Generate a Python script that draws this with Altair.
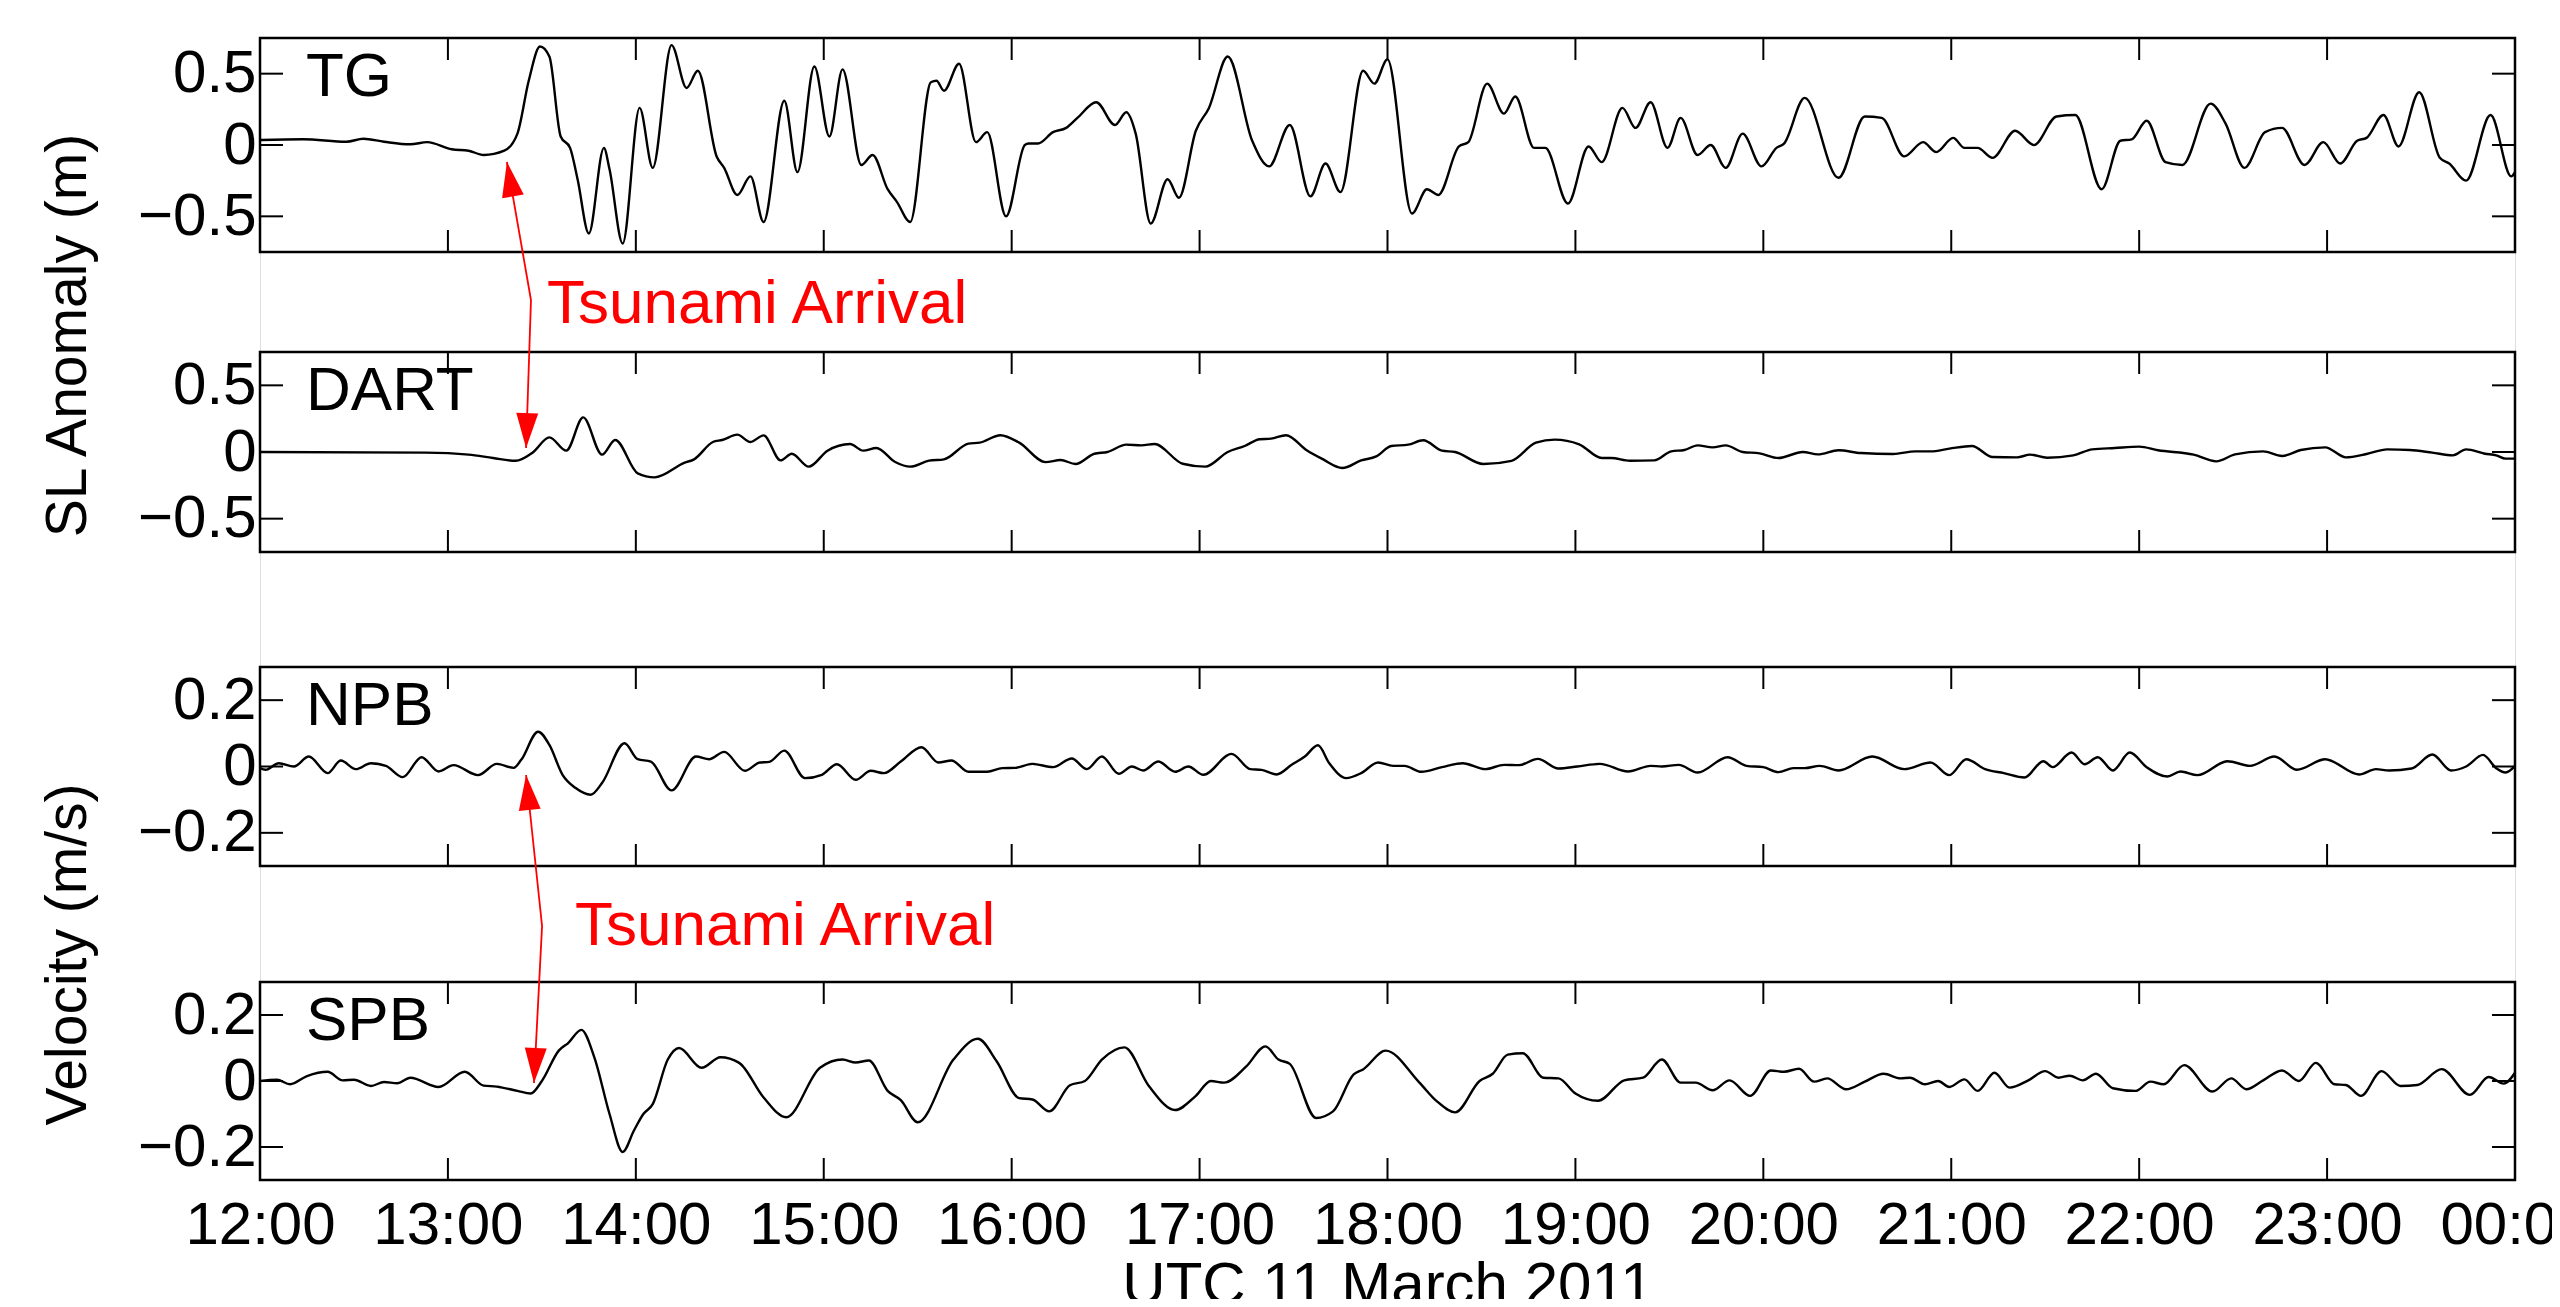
import math
import altair as alt
import pandas as pd

# ---------------- data: hours (UTC, 11 March 2011) and values ----------------
TG_T = [12.00, 12.23, 12.46, 12.55, 12.66, 12.80, 12.89, 13.02, 13.11, 13.19, 13.30, 13.37, 13.43, 13.49,
        13.54, 13.60, 13.65, 13.69, 13.75, 13.83, 13.86, 13.93, 14.02, 14.09, 14.19, 14.27, 14.33, 14.43,
        14.47, 14.54, 14.61, 14.68, 14.79, 14.86, 14.95, 15.03, 15.10, 15.20, 15.26, 15.34, 15.39, 15.46,
        15.57, 15.60, 15.64, 15.72, 15.81, 15.87, 15.97, 16.07, 16.09, 16.14, 16.22, 16.29, 16.35, 16.45,
        16.55, 16.61, 16.66, 16.74, 16.83, 16.89, 16.98, 17.05, 17.15, 17.28, 17.37, 17.48, 17.59, 17.67,
        17.75, 17.87, 17.93, 18.00, 18.13, 18.21, 18.27, 18.38, 18.43, 18.53, 18.62, 18.68, 18.78, 18.84,
        18.96, 19.07, 19.14, 19.25, 19.32, 19.40, 19.49, 19.56, 19.65, 19.72, 19.80, 19.89, 19.99, 20.07,
        20.11, 20.22, 20.40, 20.54, 20.63, 20.75, 20.85, 20.92, 21.01, 21.07, 21.14, 21.22, 21.34, 21.44,
        21.56, 21.66, 21.80, 21.90, 21.96, 22.04, 22.14, 22.23, 22.38, 22.46, 22.56, 22.67, 22.76, 22.88,
        22.98, 23.07, 23.16, 23.21, 23.30, 23.38, 23.49, 23.60, 23.65, 23.74, 23.87, 23.98, 24.00]
TG_V = [0.035, 0.04, 0.023, 0.044, 0.023, 0.005, 0.02, -0.03, -0.04, -0.07, -0.04, 0.08, 0.45, 0.69,
        0.62, 0.06, -0.02, -0.24, -0.62, -0.02, -0.17, -0.69, 0.26, -0.16, 0.70, 0.40, 0.52, -0.08,
        -0.16, -0.35, -0.22, -0.54, 0.31, -0.19, 0.55, 0.06, 0.53, -0.14, -0.07, -0.31, -0.40, -0.54,
        0.44, 0.45, 0.38, 0.57, 0.02, 0.09, -0.50, 0.0, 0.01, 0.01, 0.09, 0.12, 0.19, 0.30,
        0.14, 0.23, 0.08, -0.55, -0.24, -0.37, 0.10, 0.26, 0.62, 0.03, -0.15, 0.14, -0.36, -0.13,
        -0.33, 0.52, 0.43, 0.60, -0.48, -0.31, -0.35, -0.01, 0.02, 0.43, 0.22, 0.34, -0.02, -0.02,
        -0.41, -0.01, -0.12, 0.26, 0.12, 0.30, -0.02, 0.19, -0.07, 0.0, -0.16, 0.08, -0.15, -0.02,
        0.01, 0.33, -0.23, 0.20, 0.19, -0.08, 0.02, -0.05, 0.05, -0.02, -0.02, -0.09, 0.10, 0.0,
        0.20, 0.21, -0.31, 0.03, 0.04, 0.17, -0.12, -0.14, 0.29, 0.15, -0.16, 0.09, 0.12, -0.14,
        0.02, -0.13, 0.03, 0.05, 0.21, -0.01, 0.37, -0.09, -0.13, -0.25, 0.21, -0.22, -0.19]

DART_T = [12.00, 12.88, 13.11, 13.24, 13.36, 13.45, 13.54, 13.63, 13.72, 13.82, 13.89, 14.01, 14.10, 14.26,
          14.31, 14.41, 14.46, 14.54, 14.61, 14.68, 14.77, 14.83, 14.92, 15.02, 15.14, 15.21, 15.28, 15.38,
          15.46, 15.56, 15.64, 15.77, 15.83, 15.94, 16.04, 16.18, 16.26, 16.34, 16.44, 16.51, 16.61, 16.69,
          16.76, 16.91, 17.03, 17.15, 17.24, 17.32, 17.38, 17.46, 17.57, 17.65, 17.76, 17.86, 17.94, 18.02,
          18.11, 18.19, 18.29, 18.36, 18.51, 18.66, 18.79, 18.89, 19.02, 19.14, 19.19, 19.29, 19.42, 19.51,
          19.58, 19.65, 19.73, 19.80, 19.89, 19.98, 20.08, 20.21, 20.29, 20.40, 20.52, 20.69, 20.81, 20.89,
          20.99, 21.11, 21.22, 21.35, 21.42, 21.51, 21.65, 21.75, 21.87, 22.00, 22.10, 22.29, 22.41, 22.51,
          22.66, 22.76, 22.86, 22.99, 23.10, 23.21, 23.32, 23.44, 23.56, 23.67, 23.74, 23.84, 23.90, 23.95,
          24.00]
DART_V = [0.0, -0.005, -0.02, -0.045, -0.066, -0.005, 0.11, 0.01, 0.26, -0.02, 0.09, -0.16, -0.19, -0.08,
          -0.055, 0.075, 0.09, 0.13, 0.075, 0.125, -0.063, -0.013, -0.11, 0.01, 0.06, 0.01, 0.03, -0.075,
          -0.11, -0.065, -0.055, 0.063, 0.07, 0.126, 0.07, -0.076, -0.06, -0.09, -0.013, 0.0, 0.055, 0.05,
          0.06, -0.088, -0.11, 0.0, 0.045, 0.096, 0.10, 0.126, 0.013, -0.05, -0.12, -0.063, -0.033, 0.045,
          0.055, 0.088, 0.01, 0.0, -0.09, -0.066, 0.07, 0.093, 0.058, -0.045, -0.045, -0.066, -0.063, 0.005,
          0.015, 0.05, 0.035, 0.05, 0.0, -0.01, -0.045, 0.0, -0.018, 0.013, -0.008, -0.015, 0.005, 0.005,
          0.025, 0.045, -0.038, -0.04, -0.02, -0.043, -0.025, 0.02, 0.03, 0.04, 0.013, -0.02, -0.07, -0.018,
          0.005, -0.03, 0.015, 0.035, -0.04, -0.015, 0.02, 0.015, -0.005, -0.025, 0.02, -0.013, -0.025, -0.05,
          -0.05]

NPB_T = [12.00, 12.03, 12.10, 12.18, 12.26, 12.36, 12.43, 12.51, 12.59, 12.67, 12.76, 12.86, 12.95, 13.03,
         13.16, 13.26, 13.35, 13.39, 13.48, 13.54, 13.61, 13.68, 13.76, 13.82, 13.94, 14.01, 14.08, 14.19,
         14.32, 14.39, 14.47, 14.58, 14.66, 14.71, 14.79, 14.90, 14.99, 15.07, 15.17, 15.25, 15.32, 15.41,
         15.52, 15.61, 15.68, 15.77, 15.87, 15.95, 16.02, 16.11, 16.22, 16.32, 16.40, 16.48, 16.57, 16.64,
         16.70, 16.78, 16.87, 16.94, 17.02, 17.17, 17.27, 17.33, 17.41, 17.49, 17.56, 17.63, 17.69, 17.78,
         17.86, 17.95, 18.03, 18.09, 18.18, 18.29, 18.40, 18.52, 18.62, 18.70, 18.80, 18.91, 19.01, 19.13,
         19.28, 19.40, 19.46, 19.55, 19.65, 19.81, 19.91, 20.00, 20.08, 20.16, 20.22, 20.30, 20.40, 20.58,
         20.75, 20.89, 20.99, 21.08, 21.18, 21.28, 21.39, 21.49, 21.54, 21.64, 21.71, 21.78, 21.86, 21.95,
         22.04, 22.15, 22.22, 22.31, 22.47, 22.59, 22.72, 22.84, 22.99, 23.17, 23.26, 23.33, 23.45, 23.56,
         23.66, 23.74, 23.83, 23.90, 23.95, 24.00]
NPB_V = [-0.005, -0.01, 0.01, 0.0, 0.03, -0.02, 0.018, -0.008, 0.01, 0.002, -0.032, 0.028, -0.015, 0.004,
         -0.026, 0.008, -0.004, 0.02, 0.105, 0.065, -0.025, -0.065, -0.085, -0.05, 0.07, 0.022, 0.015, -0.072,
         0.03, 0.022, 0.044, -0.013, 0.012, 0.014, 0.048, -0.035, -0.025, 0.007, -0.04, -0.013, -0.02, 0.015,
         0.058, 0.012, 0.018, -0.016, -0.016, -0.005, -0.004, 0.008, -0.002, 0.024, -0.008, 0.03, -0.022, 0.0,
         -0.012, 0.015, -0.016, 0.0, -0.025, 0.038, -0.008, -0.01, -0.024, 0.005, 0.03, 0.064, 0.01, -0.035,
         -0.02, 0.012, 0.002, 0.002, -0.016, -0.002, 0.01, -0.008, 0.005, 0.004, 0.023, -0.006, 0.0, 0.008,
         -0.015, 0.002, 0.0, 0.005, -0.018, 0.028, 0.002, -0.002, -0.017, -0.005, -0.005, 0.002, -0.012, 0.03,
         -0.008, 0.012, -0.026, 0.022, -0.008, -0.02, -0.033, 0.016, -0.002, 0.042, 0.007, 0.028, -0.012, 0.042,
         -0.002, -0.03, -0.015, -0.026, 0.016, 0.002, 0.03, -0.01, 0.022, -0.024, -0.008, -0.012, -0.006, 0.036,
         -0.012, 0.0, 0.035, -0.005, -0.018, 0.002]

SPB_T = [12.00, 12.09, 12.16, 12.25, 12.36, 12.44, 12.50, 12.59, 12.66, 12.73, 12.80, 12.95, 13.09, 13.19,
         13.26, 13.37, 13.44, 13.50, 13.59, 13.64, 13.71, 13.78, 13.86, 13.93, 13.99, 14.04, 14.09, 14.17,
         14.23, 14.35, 14.45, 14.55, 14.68, 14.80, 14.98, 15.10, 15.17, 15.24, 15.34, 15.41, 15.50, 15.69,
         15.82, 15.92, 16.04, 16.11, 16.20, 16.31, 16.39, 16.48, 16.60, 16.73, 16.87, 16.98, 17.06, 17.13,
         17.25, 17.35, 17.42, 17.48, 17.62, 17.71, 17.82, 17.87, 17.99, 18.17, 18.26, 18.36, 18.49, 18.56,
         18.64, 18.72, 18.83, 18.91, 19.00, 19.12, 19.26, 19.36, 19.46, 19.56, 19.64, 19.73, 19.82, 19.93,
         20.04, 20.11, 20.19, 20.27, 20.34, 20.44, 20.54, 20.64, 20.73, 20.78, 20.86, 20.93, 20.99, 21.07,
         21.14, 21.23, 21.31, 21.41, 21.50, 21.57, 21.63, 21.70, 21.77, 21.86, 21.98, 22.06, 22.13, 22.24,
         22.39, 22.49, 22.57, 22.66, 22.76, 22.85, 22.94, 23.04, 23.10, 23.18, 23.29, 23.39, 23.48, 23.61,
         23.76, 23.86, 23.94, 24.00]
SPB_V = [0.0, 0.004, -0.01, 0.015, 0.028, 0.002, 0.004, -0.015, -0.003, -0.007, 0.01, -0.018, 0.028, -0.014,
         -0.017, -0.03, -0.038, 0.0, 0.092, 0.115, 0.155, 0.07, -0.10, -0.215, -0.15, -0.10, -0.07, 0.065,
         0.10, 0.04, 0.072, 0.055, -0.05, -0.11, 0.04, 0.065, 0.056, 0.062, -0.03, -0.058, -0.125, 0.065,
         0.128, 0.06, -0.052, -0.056, -0.092, -0.013, 0.0, 0.065, 0.102, -0.015, -0.088, -0.045, 0.0, -0.005,
         0.045, 0.105, 0.065, 0.052, -0.112, -0.092, 0.02, 0.035, 0.092, -0.005, -0.06, -0.095, 0.0, 0.022,
         0.08, 0.084, 0.01, 0.008, -0.038, -0.06, 0.002, 0.01, 0.065, -0.005, -0.005, -0.028, 0.002, -0.045,
         0.032, 0.028, 0.037, -0.002, 0.008, -0.025, -0.002, 0.022, 0.008, 0.01, -0.01, 0.0, -0.018, 0.005,
         -0.03, 0.025, -0.02, 0.002, 0.03, 0.01, 0.016, 0.002, 0.022, -0.022, -0.03, -0.002, -0.01, 0.048,
         -0.032, 0.008, -0.025, 0.002, 0.032, 0.0, 0.055, -0.01, -0.012, -0.045, 0.03, -0.015, -0.012, 0.036,
         -0.042, 0.012, -0.008, 0.025]

HOUR_TICKS = list(range(12, 25))
INNER_HOURS = list(range(13, 24))
SL_DOMAIN = [-0.75, 0.75]
SL_TICKS = [-0.5, 0, 0.5]
VEL_DOMAIN = [-0.3, 0.3]
VEL_TICKS = [-0.2, 0, 0.2]
ARRIVAL_TEXT = "Tsunami Arrival"

# ---------------- layout / style ----------------
FONT = "Liberation Sans"
W = 2255
H = 1142
PAD_L, PAD_T, PAD_R, PAD_B = 252, 30, 37, 119
TICK_LEN = 22
YTICK_LEN = 23
RED = "#ff0000"
PX_PER_HOUR = W / 12.0

xs = alt.Scale(domain=[12, 24], nice=False, zero=False)
one = pd.DataFrame({"k": [0]})

# one shared x axis spec, given identically to every layer that encodes x
X_AXIS = alt.Axis(
    values=HOUR_TICKS,
    labelExpr="datum.value == 24 ? '00:00' : datum.value + ':00'",
    labelFont=FONT, labelFontSize=60, labelColor="black", labelPadding=16,
    labelFlush=False, labelOverlap=False,
    ticks=False, tickSize=0, domain=False, grid=False,
    title="UTC 11 March 2011", titleFont=FONT, titleFontSize=60, titleFontWeight="normal",
    titleColor="black", titleBaseline="top", titleAlign="center", titleX=W / 2, titleY=76,
)


def X(field):
    return alt.X(field, scale=xs, axis=X_AXIS)


Y_LABEL_EXPR = "datum.value == 0 ? '0' : replace(format(datum.value, '.1f'), '-', '\u2212')"


def panel(name, t, v, dom, ticks, top, bottom, ytitle, ytitle_y):
    ys = alt.Scale(domain=dom, range=[bottom, top], nice=False, zero=False)
    axis_kw = dict(
        orient="left", values=ticks, labelExpr=Y_LABEL_EXPR, labelFont=FONT, labelFontSize=60,
        labelColor="black", labelPadding=4, labelFlush=False, labelOverlap=False,
        ticks=False, tickSize=0, domain=False, grid=False,
    )
    if ytitle:
        axis_kw.update(title=ytitle, titleFont=FONT, titleFontSize=57, titleFontWeight="normal",
                       titleColor="black", titleAngle=270, titleAlign="center", titleBaseline="middle",
                       titleX=-192, titleY=ytitle_y)
    else:
        axis_kw.update(title=None)
    yaxis = alt.Axis(**axis_kw)
    df = pd.DataFrame({"t": t, "v": v})
    line = alt.Chart(df).mark_line(color="black", strokeWidth=2.4, interpolate="monotone").encode(
        x=X("t:Q"), y=alt.Y("v:Q", scale=ys, axis=yaxis),
    )
    frame = alt.Chart(one).mark_rect(filled=False, stroke="black", strokeWidth=2.5).encode(
        x=alt.value(0), x2=alt.value(W), y=alt.value(top), y2=alt.value(bottom)
    )
    xt = pd.DataFrame({"t": INNER_HOURS})
    xtop = alt.Chart(xt).mark_rule(color="black", strokeWidth=2).encode(
        x=X("t:Q"), y=alt.value(top), y2=alt.value(top + TICK_LEN)
    )
    xbot = alt.Chart(xt).mark_rule(color="black", strokeWidth=2).encode(
        x=X("t:Q"), y=alt.value(bottom - TICK_LEN), y2=alt.value(bottom)
    )
    yt = pd.DataFrame({"v": ticks})
    yl = alt.Chart(yt).mark_rule(color="black", strokeWidth=2).encode(
        y=alt.Y("v:Q", scale=ys, axis=None), x=alt.value(0), x2=alt.value(YTICK_LEN)
    )
    yr = alt.Chart(yt).mark_rule(color="black", strokeWidth=2).encode(
        y=alt.Y("v:Q", scale=ys, axis=None), x=alt.value(W - YTICK_LEN), x2=alt.value(W)
    )
    label = alt.Chart(one).mark_text(
        text=name, align="left", baseline="alphabetic", font=FONT, fontSize=62, color="black"
    ).encode(x=alt.value(46), y=alt.value(top + 58))
    return [line, frame, xtop, xbot, yl, yr, label]


def arrow(tip_t, tip_y, vtx_t, vtx_y):
    seg = alt.Chart(pd.DataFrame({"t": [vtx_t], "b": [tip_t]})).mark_rule(
        color=RED, strokeWidth=1.8
    ).encode(x=X("t:Q"), x2="b:Q", y=alt.value(vtx_y), y2=alt.value(tip_y))
    dx = (tip_t - vtx_t) * PX_PER_HOUR
    dy = tip_y - vtx_y
    ang = math.degrees(math.atan2(dx, -dy)) % 360
    head = alt.Chart(pd.DataFrame({"t": [tip_t]})).mark_point(
        shape="M0,0L0.314,1L-0.314,1Z", size=4900, filled=True, color=RED, opacity=1,
        strokeWidth=0, angle=ang
    ).encode(x=X("t:Q"), y=alt.value(tip_y))
    return [seg, head]


def arrow_text(t, y):
    return alt.Chart(pd.DataFrame({"t": [t]})).mark_text(
        text=ARRIVAL_TEXT, align="left", baseline="middle", font=FONT, fontSize=62, color=RED
    ).encode(x=X("t:Q"), y=alt.value(y))


layers = []
layers += panel("TG", TG_T, TG_V, SL_DOMAIN, SL_TICKS, 0, 214, "SL Anomaly (m)", 297)
layers += panel("DART", DART_T, DART_V, SL_DOMAIN, SL_TICKS, 314, 514, None, None)
layers += panel("NPB", NPB_T, NPB_V, VEL_DOMAIN, VEL_TICKS, 629, 828, "Velocity (m/s)", 916)
layers += panel("SPB", SPB_T, SPB_V, VEL_DOMAIN, VEL_TICKS, 944, 1142, None, None)

# upper annotation (TG / DART)
layers += arrow(13.314, 124, 13.442, 262)
layers += arrow(13.416, 410, 13.442, 262)
layers.append(arrow_text(13.527, 266))
# lower annotation (NPB / SPB)
layers += arrow(13.416, 737, 13.501, 888)
layers += arrow(13.458, 1045, 13.501, 888)
layers.append(arrow_text(13.676, 888))

chart = alt.layer(*layers).resolve_scale(y="independent").resolve_axis(y="independent").properties(
    width=W, height=H,
    autosize=alt.AutoSizeParams(type="none"),
    padding={"left": PAD_L, "top": PAD_T, "right": PAD_R, "bottom": PAD_B},
).configure_view(strokeWidth=0, stroke="transparent").configure(background="white")

chart.save("out.html", embed_options={"renderer": "svg", "actions": False})
